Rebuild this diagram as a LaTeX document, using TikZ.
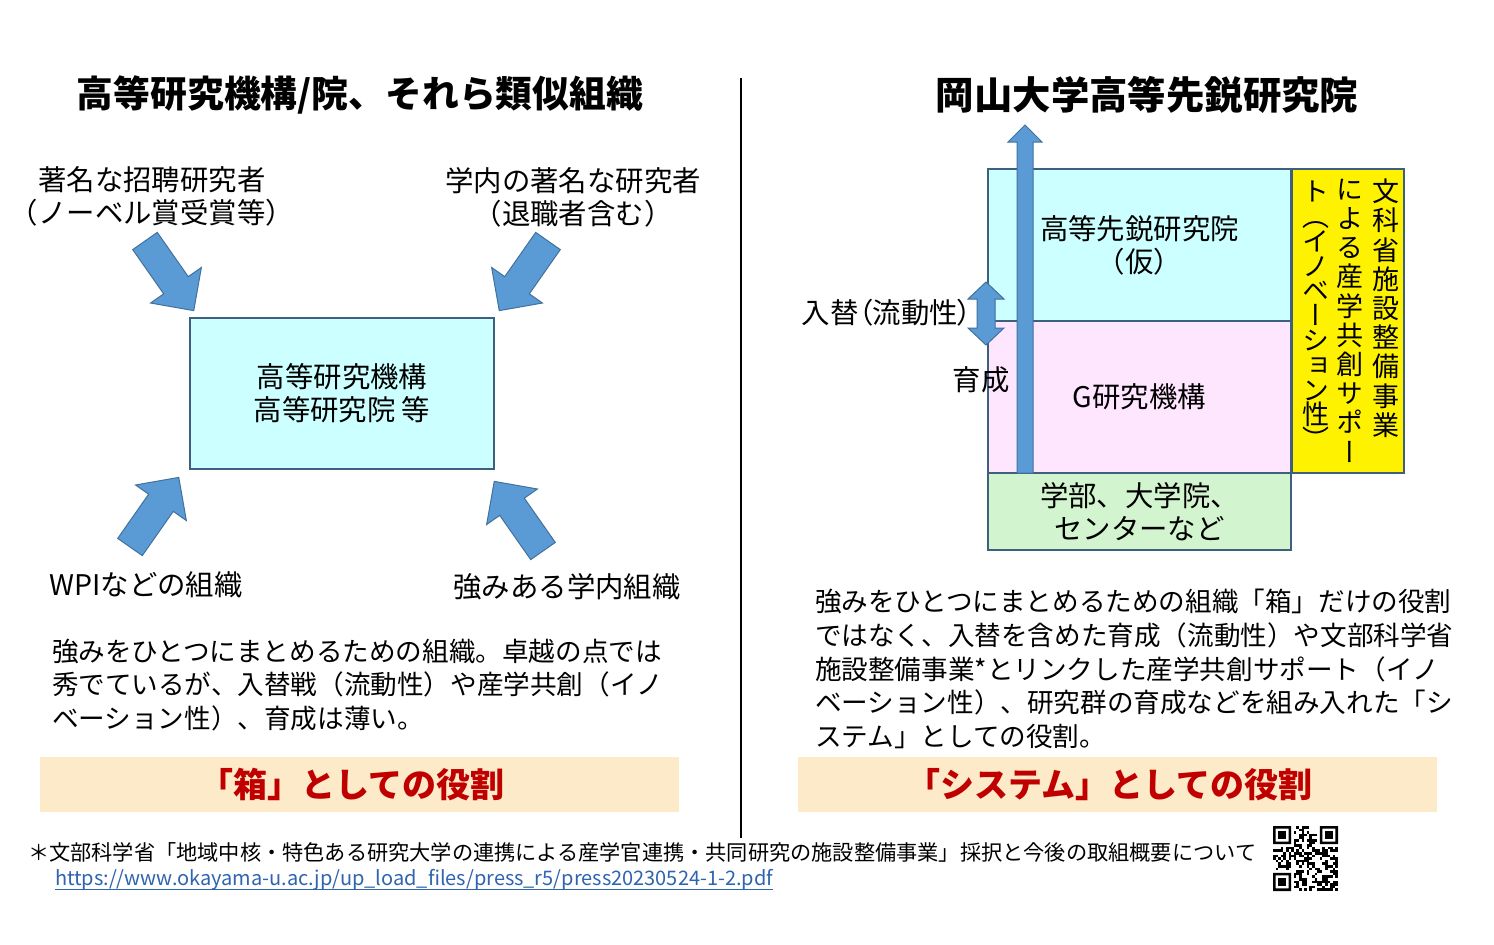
\documentclass[tikz,border=0pt]{standalone}
\usepackage{fontspec}
\setmainfont{Noto Sans CJK JP}
\newfontfamily\vjp[RawFeature=+vert]{Noto Sans CJK JP}
\newfontfamily\pjp[RawFeature=+palt]{Noto Sans CJK JP}
\usepackage{xcolor}
\usetikzlibrary{positioning}

\definecolor{arrowblue}{HTML}{5B9BD5}
\definecolor{arrowedge}{HTML}{41719C}
\definecolor{boxcyan}{HTML}{CCFFFF}
\definecolor{boxpink}{HTML}{FFE6FF}
\definecolor{boxgreen}{HTML}{D2F5CF}
\definecolor{boxedge}{HTML}{3F5F7F}
\definecolor{bandpeach}{HTML}{FCEAC8}
\definecolor{rolered}{HTML}{C00000}
\definecolor{linkblue}{HTML}{2F64B0}

\tikzset{
  heading/.style={font=\bfseries\fontsize{#1}{22pt}\selectfont},
  heading/.default=19.2pt,
  lbl/.style={font=\fontsize{14.2pt}{16.5pt}\selectfont, align=center},
  plbl/.style={font=\pjp\fontsize{14.2pt}{16.5pt}\selectfont, align=center},
  para/.style={font=\fontsize{13.3pt}{16.8pt}\selectfont, align=left, anchor=west},
  roletext/.style={font=\bfseries\fontsize{17pt}{20pt}\selectfont, text=rolered},
  vtext/.style={font=\vjp\fontsize{13.5pt}{#1}\selectfont, align=center, anchor=north},
  vtext/.default=14.6pt,
  note/.style={font=\fontsize{#1}{12pt}\selectfont, anchor=west},
  note/.default=10.6pt,
  orgbox/.style={draw=boxedge, line width=0.6pt},
  fatarrow/.style={fill=arrowblue, draw=arrowedge, line width=0.5pt, line join=miter}
}

% broad arrow, tail centre #1, direction #2
\newcommand{\fatarrow}[2]{%
  \draw[fatarrow, shift={(#1)}, rotate=#2]
    (0,15) -- (54,15) -- (54,31) -- (85,0) -- (54,-31) -- (54,-15) -- (0,-15) -- cycle;}

\begin{document}
\begin{tikzpicture}[x=0.5pt,y=-0.5pt, every node/.style={inner sep=0pt, outer sep=0pt}]
\useasboundingbox (0,0) rectangle (1494,944);
\fill[white] (0,0) rectangle (1494,944);

% left half
\node[heading=18.4pt] (lefttitle) at (360,95) {高等研究機構/院、それら類似組織};
\node[lbl] (invited) at (152,196) {著名な招聘研究者\\（ノーベル賞受賞等）};
\node[lbl] (inhouse) at (573,197) {学内の著名な研究者\\（退職者含む）};
\node[lbl] (wpi) at (146,585) {WPIなどの組織};
\node[lbl] (strong) at (567,587) {強みある学内組織};

\draw[orgbox, fill=boxcyan] (190,318) rectangle (494,469) node[pos=.5, lbl] (kikou) {高等研究機構\\高等研究院 等};

\fatarrow{145,241}{-55}
\fatarrow{548,241}{-125}
\fatarrow{130,547}{55}
\fatarrow{543,551}{125}

\node[para] (lefttext) at (52,685) {強みをひとつにまとめるための組織。卓越の点では\\秀でているが、入替戦（流動性）や産学共創（イノ\\ベーション性）、育成は薄い。};

\fill[bandpeach] (40,757) rectangle (679,812) node[pos=.5, roletext, xshift=-4pt] (boxrole) {「箱」としての役割};

\draw[line width=0.9pt] (741,78) -- (741,838);

% right half
\node[heading] (righttitle) at (1147,95) {岡山大学高等先鋭研究院};

\draw[orgbox, fill=boxcyan] (988,169) rectangle (1291,321) node[pos=.5, lbl] (sen) {高等先鋭研究院\\（仮）};
\draw[orgbox, fill=boxpink] (988,321) rectangle (1291,473) node[pos=.5, lbl] (gkikou) {G研究機構};
\draw[orgbox, fill=boxgreen] (988,473) rectangle (1291,550) node[pos=.5, lbl] (gakubu) {学部、大学院、\\センターなど};
\draw[orgbox, fill=yellow] (1292,169) rectangle (1404,473);

\node[vtext] (vt1) at (1386,179) {文\\科\\省\\施\\設\\整\\備\\事\\業};
\node[vtext] (vt2) at (1350,179) {に\\よ\\る\\産\\学\\共\\創\\サ\\ポ\\ー};
\node[vtext=12.4pt] (vt3) at (1316,181) {ト\\（\\イ\\ノ\\ベ\\ー\\シ\\ョ\\ン\\性\\）};

\draw[fatarrow] (1017,473) -- (1017,142) -- (1008,142) -- (1025,125) -- (1042,142) -- (1033,142) -- (1033,473) -- cycle;
\draw[fatarrow] (986,282) -- (1004,299) -- (995,299) -- (995,328) -- (1004,328) -- (986,345)
  -- (968,328) -- (977,328) -- (977,299) -- (968,299) -- cycle;

\node[plbl, anchor=east] (swap) at (972,313) {入替（流動性）};
\node[lbl] (ikusei) at (981,380) {育成};

\node[para] (righttext) at (815,669) {強みをひとつにまとめるための組織「箱」だけの役割\\ではなく、入替を含めた育成（流動性）や文部科学省\\施設整備事業*とリンクした産学共創サポート（イノ\\ベーション性）、研究群の育成などを組み入れた「シ\\ステム」としての役割。};

\fill[bandpeach] (798,757) rectangle (1437,812) node[pos=.5, roletext, xshift=-4pt] (sysrole) {「システム」としての役割};

% footnote
\node[note] (fn) at (28,852) {＊文部科学省「地域中核・特色ある研究大学の連携による産学官連携・共同研究の施設整備事業」採択と今後の取組概要について};
\node[note=10pt, text=linkblue] (url) at (55,880) {https://www.okayama-u.ac.jp/up\_load\_files/press\_r5/press20230524-1-2.pdf};
\draw[linkblue, line width=0.6pt] ([yshift=-2pt]url.base west) -- ([yshift=-2pt]url.base east);

% QR code
\pgfmathsetseed{524}
\begin{scope}[shift={(1273,826)}, x=1.3pt, y=-1.3pt]
  \foreach \row in {0,...,24}
    \foreach \col in {0,...,24} {
      \pgfmathrandominteger{\bit}{0}{1}
      \ifnum\bit=1 \fill (\col,\row) rectangle ++(1,1);\fi
    }
  \fill[white] (0,0) rectangle (8,8) (17,0) rectangle (25,8) (0,17) rectangle (8,25);
  \foreach \qx/\qy in {0/0, 18/0, 0/18} {
    \fill[even odd rule] (\qx,\qy) rectangle ++(7,7) (\qx+1,\qy+1) rectangle ++(5,5);
    \fill (\qx+2,\qy+2) rectangle ++(3,3);
  }
\end{scope}

\end{tikzpicture}
\end{document}
